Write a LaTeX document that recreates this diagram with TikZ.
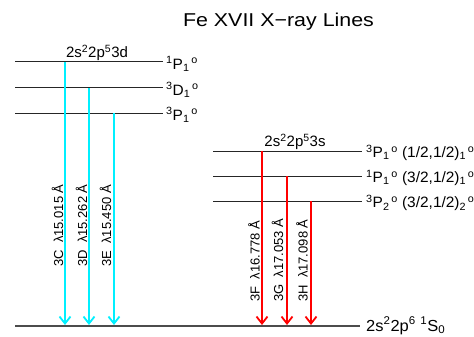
\documentclass[tikz,border=0pt]{standalone}
\usepackage{fontspec}
\setmainfont{Liberation Sans}
\newfontfamily\titlefont[FakeStretch=1.15]{Liberation Sans}
\newfontfamily\widefont[FakeStretch=1.03]{Liberation Sans}
\usetikzlibrary{arrows.meta}
\definecolor{xcyan}{RGB}{0,240,255}
\definecolor{xred}{RGB}{255,0,0}
\newcommand{\tm}[3]{\textsuperscript{#1}#2\textsubscript{#3}\textsuperscript{\,o}}
\tikzset{
  lvl/.style={line width=1pt,black!85},
  gnd/.style={line width=1.3pt,black!70},
  cline/.style={line width=1.8pt,xcyan,-{Straight Barb[length=7pt,width=11pt]}},
  rline/.style={line width=1.8pt,xred,-{Straight Barb[length=7pt,width=11pt]}},
  wlab/.style={font=\fontsize{13}{13}\selectfont,rotate=90,anchor=base west,inner sep=0pt},
  cfg/.style={font=\fontsize{15}{15}\selectfont,anchor=base,inner sep=0pt},
  term/.style={font=\widefont\fontsize{15}{15}\selectfont,anchor=west,inner sep=0pt},
  ttl/.style={font=\titlefont\fontsize{18.6}{18.6}\selectfont,anchor=base,inner sep=0pt}
}
\begin{document}
\begin{tikzpicture}[x=1pt,y=-1pt]
  \useasboundingbox (0,0) rectangle (474,337);
  \node[ttl] (title) at (278.5,26.7) {Fe XVII X−ray Lines};
  % upper levels 2s2 2p5 3d
  \draw[lvl] (15,62) -- (163,62); \draw[lvl] (15,88) -- (163,88); \draw[lvl] (15,113) -- (163,113);
  \node[cfg] (cfgd) at (97,57.5) {2s\textsuperscript{2}2p\textsuperscript{5}3d};
  \node[term] (t1P) at (166,64) {\tm{1}{P}{1}}; \node[term] (t3D) at (166,90) {\tm{3}{D}{1}};
  \node[term] (t3P) at (166,115) {\tm{3}{P}{1}};
  % upper levels 2s2 2p5 3s
  \draw[lvl] (213,151) -- (362,151); \draw[lvl] (213,176) -- (362,176); \draw[lvl] (213,201) -- (362,201);
  \node[cfg] (cfgs) at (295,146.5) {2s\textsuperscript{2}2p\textsuperscript{5}3s};
  \node[term] (s3P1) at (366,153) {\tm{3}{P}{1} (1/2,1/2)\textsubscript{1}\textsuperscript{\,o}};
  \node[term] (s1P1) at (366,178) {\tm{1}{P}{1} (3/2,1/2)\textsubscript{1}\textsuperscript{\,o}};
  \node[term] (s3P2) at (366,203) {\tm{3}{P}{2} (3/2,1/2)\textsubscript{2}\textsuperscript{\,o}};
  % ground
  \draw[gnd] (15,326) -- (360,326);
  \node[term,anchor=base west,font=\widefont\fontsize{16}{16}\selectfont] (gs) at (366,331) {2s\textsuperscript{2}2p\textsuperscript{6} \textsuperscript{1}S\textsubscript{0}};
  % transitions
  \foreach \nm/\xx/\yy in {3C/65/62,3D/89/88,3E/114/113,3F/262/151,3G/287/176,3H/311/201}{
    \coordinate (u\nm) at (\xx,\yy); \coordinate (g\nm) at (\xx,325);
  }
  \draw[cline] (u3C) -- (g3C); \draw[cline] (u3D) -- (g3D); \draw[cline] (u3E) -- (g3E);
  \draw[rline] (u3F) -- (g3F); \draw[rline] (u3G) -- (g3G); \draw[rline] (u3H) -- (g3H);
  \node[wlab] (l3C) at (63,267) {3C\ \ λ15.015 Å}; \node[wlab] (l3D) at (87,267) {3D\ \ λ15.262 Å};
  \node[wlab] (l3E) at (111,267) {3E\ \ λ15.450 Å};
  \node[wlab] (l3F) at (259.5,302) {3F\ \ λ16.778 Å}; \node[wlab] (l3G) at (283,302) {3G\ \ λ17.053 Å};
  \node[wlab] (l3H) at (307.5,302) {3H\ \ λ17.098 Å};
\end{tikzpicture}
\end{document}
